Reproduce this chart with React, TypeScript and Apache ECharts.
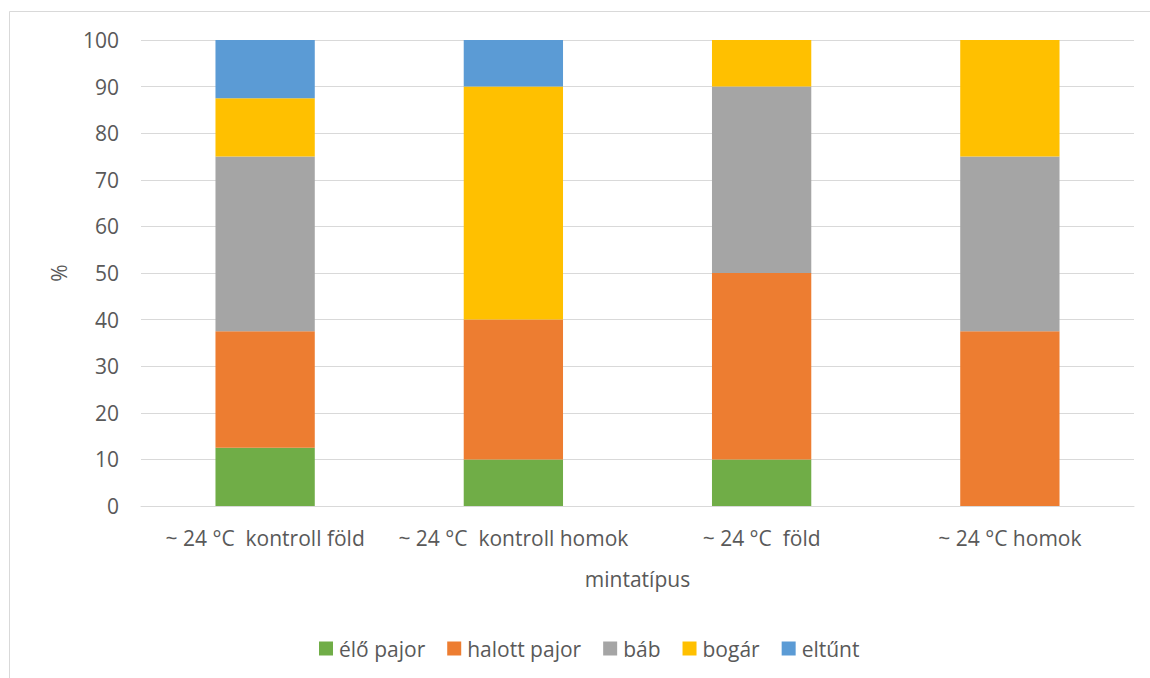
import React, { useEffect, useRef } from "react";
import * as echarts from "echarts";

const categories = ["~ 24 °C  kontroll föld", "~ 24 °C  kontroll homok", "~ 24 °C  föld", "~ 24 °C homok"];
const eloPajor = [12.5, 10, 10, 0];
const halottPajor = [25, 30, 40, 37.5];
const bab = [37.5, 0, 40, 37.5];
const bogar = [12.5, 50, 10, 25];
const eltunt = [12.5, 10, 0, 0];
const seriesNames = ["élő pajor", "halott pajor", "báb", "bogár", "eltűnt"];
const seriesColors = ["#70AD47", "#ED7D31", "#A5A5A5", "#FFC000", "#5B9BD5"];

const FONT = "'Open Sans', 'Noto Sans', sans-serif";
const TXT = "#595959";

export default function App() {
  const ref = useRef<HTMLDivElement>(null);
  useEffect(() => {
    if (!ref.current) return;
    const chart = echarts.init(ref.current, null, { renderer: "svg" });
    const data = [eloPajor, halottPajor, bab, bogar, eltunt];
    chart.setOption({
      animation: false,
      textStyle: { fontFamily: FONT },
      graphic: [
        {
          type: "rect",
          shape: { x: 9.5, y: 11.5, width: 1200, height: 700 },
          style: { fill: "none", stroke: "#D9D9D9", lineWidth: 1 },
          silent: true,
        },
      ],
      grid: { left: 141, right: 16, top: 40, bottom: 172, containLabel: false },
      legend: {
        bottom: 19,
        left: 319,
        padding: 0,
        itemWidth: 14,
        itemHeight: 14,
        itemGap: 22,
        icon: "rect",
        textStyle: { color: TXT, fontSize: 21, fontFamily: FONT, padding: [0, 0, 0, 1] },
        data: seriesNames,
      },
      xAxis: {
        type: "category",
        data: categories,
        name: "mintatípus",
        nameLocation: "middle",
        nameGap: 62,
        nameTextStyle: { color: TXT, fontSize: 21, fontFamily: FONT },
        axisLine: { lineStyle: { color: "#D9D9D9", width: 1 } },
        axisTick: { show: false },
        axisLabel: { color: TXT, fontSize: 21, fontFamily: FONT, margin: 21, interval: 0 },
      },
      yAxis: {
        type: "value",
        min: 0,
        max: 100,
        interval: 10,
        name: "%",
        nameLocation: "middle",
        nameGap: 72,
        nameTextStyle: { color: TXT, fontSize: 21, fontFamily: FONT },
        axisLine: { show: false },
        axisTick: { show: false },
        axisLabel: { color: TXT, fontSize: 21, fontFamily: FONT, margin: 22 },
        splitLine: { lineStyle: { color: "#D9D9D9", width: 1 } },
      },
      series: seriesNames.map((name, i) => ({
        name,
        type: "bar",
        stack: "total",
        barWidth: "40%",
        itemStyle: { color: seriesColors[i] },
        data: data[i],
      })),
    });
    return () => chart.dispose();
  }, []);
  return (
    <div
      ref={ref}
      style={{ position: "fixed", left: 0, top: 0, width: 1150, height: 678, background: "#fff" }}
    />
  );
}
